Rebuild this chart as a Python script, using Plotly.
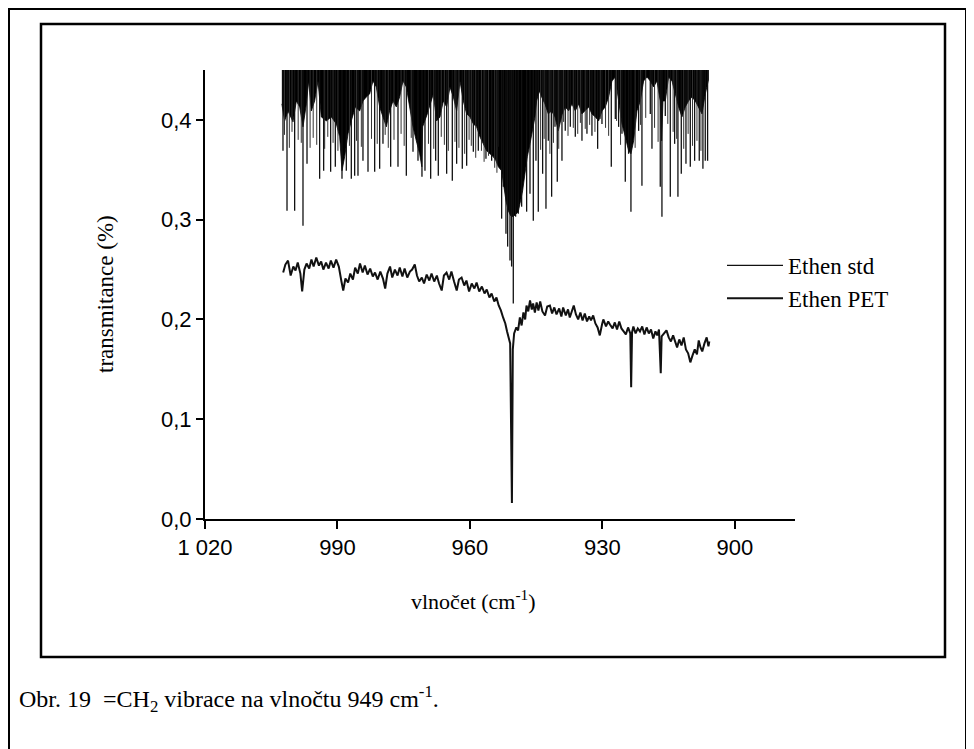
import plotly.graph_objects as go

# ---------------- data ----------------
# Ethen std: individual sharp absorption lines (wavenumber cm-1, minimum transmitance)
std_line_x = [1002.34, 1001.43, 999.70, 997.81, 996.90, 994.04, 993.13, 991.55, 990.49, 988.98,
              988.00, 986.87, 986.11, 985.36, 984.23, 983.09, 981.58, 980.45, 979.70, 977.96,
              976.30, 974.41, 972.90, 971.77, 970.87, 970.19, 968.90, 967.77, 967.17, 965.28,
              964.00, 963.02, 961.74, 960.75, 959.24, 958.11, 956.38, 955.09, 953.58, 952.83,
              952.45, 951.85, 951.47, 950.94, 950.57, 950.19, 949.66, 949.06, 948.30, 947.17,
              946.41, 945.66, 945.06, 944.53, 943.55, 942.79, 942.26, 941.51, 940.75, 940.23,
              939.62, 939.17, 938.42, 937.28, 936.15, 934.64, 933.51, 932.38, 931.09, 930.11,
              928.00, 927.09, 926.34, 925.58, 924.83, 924.08, 923.55, 921.81, 921.06, 919.17,
              918.79, 916.91, 916.53, 915.77, 914.64, 913.66, 912.91, 912.15, 911.09, 910.11,
              909.13, 908.08, 907.25, 906.72, 906.19]
std_line_y = [0.369, 0.309, 0.309, 0.294, 0.356, 0.341, 0.349, 0.348, 0.353, 0.341,
              0.349, 0.341, 0.344, 0.344, 0.359, 0.348, 0.348, 0.351, 0.376, 0.353,
              0.353, 0.344, 0.368, 0.359, 0.343, 0.349, 0.341, 0.359, 0.344, 0.346,
              0.339, 0.356, 0.351, 0.354, 0.368, 0.369, 0.361, 0.359, 0.373, 0.301,
              0.333, 0.286, 0.273, 0.259, 0.253, 0.216, 0.303, 0.306, 0.313, 0.308,
              0.326, 0.299, 0.359, 0.308, 0.346, 0.311, 0.379, 0.323, 0.393, 0.338,
              0.399, 0.359, 0.389, 0.393, 0.383, 0.379, 0.386, 0.384, 0.371, 0.396,
              0.353, 0.401, 0.393, 0.386, 0.338, 0.366, 0.308, 0.389, 0.334, 0.406,
              0.371, 0.333, 0.303, 0.404, 0.323, 0.376, 0.323, 0.346, 0.356, 0.353,
              0.359, 0.359, 0.351, 0.359, 0.359]

# Ethen std: weaker lines of the forest (wavenumber cm-1, minimum transmitance)
std_weak_x = [1002.0, 1000.9, 1000.3, 998.9, 998.2, 996.2, 995.5, 994.7, 992.9, 992.2,
              991.0, 989.9, 987.3, 985.7, 984.6, 982.3, 981.0, 979.2, 978.5, 977.2,
              975.6, 974.9, 973.3, 969.4, 968.2, 966.5, 965.8, 964.9, 963.4, 962.5,
              961.2, 960.2, 959.7, 958.7, 957.4, 956.8, 955.8, 954.4, 953.9, 944.0,
              943.2, 941.9, 941.1, 939.9, 938.8, 937.8, 936.6, 935.6, 935.0, 933.9,
              932.9, 931.7, 930.5, 929.3, 928.6, 926.8, 925.9, 922.6, 921.4, 920.2,
              918.2, 917.4, 915.2, 914.0, 913.2, 911.6, 910.6, 909.6, 908.6, 907.7]
std_weak_y = [0.385, 0.372, 0.388, 0.380, 0.377, 0.372, 0.382, 0.375, 0.371, 0.383,
              0.377, 0.369, 0.374, 0.379, 0.373, 0.381, 0.376, 0.385, 0.372, 0.380,
              0.386, 0.374, 0.382, 0.376, 0.371, 0.383, 0.375, 0.369, 0.378, 0.372,
              0.366, 0.380, 0.374, 0.362, 0.369, 0.358, 0.364, 0.352, 0.347, 0.370,
              0.381, 0.366, 0.377, 0.371, 0.398, 0.384, 0.392, 0.386, 0.397, 0.391,
              0.395, 0.388, 0.401, 0.392, 0.384, 0.399, 0.375, 0.372, 0.395, 0.402,
              0.392, 0.378, 0.396, 0.388, 0.381, 0.371, 0.386, 0.374, 0.379, 0.369]

# Ethen std: lower edge of the dense (unresolved, solid black) line forest
std_band_x = [1002.60, 1001.96, 1001.21, 1000.07, 999.32, 998.56, 997.81, 997.05, 996.53, 995.92,
              995.17, 994.41, 993.66, 992.53, 991.40, 990.26, 989.51, 988.98, 988.38, 987.62,
              986.87, 985.96, 984.98, 984.23, 983.47, 982.72, 981.96, 981.21, 980.45, 979.70,
              978.94, 978.19, 977.43, 976.68, 975.92, 975.17, 974.41, 973.66, 972.90, 972.15,
              971.40, 970.90, 970.72, 969.66, 969.06, 968.30, 967.55, 966.79, 966.04, 965.28,
              964.53, 963.77, 963.02, 962.26, 961.51, 960.75, 960.00, 959.24, 958.49, 957.74,
              956.98, 956.23, 955.47, 954.72, 954.11, 953.58, 952.83, 952.30, 951.85, 951.32,
              950.79, 950.19, 949.58, 949.06, 948.68, 948.08, 947.55, 947.02, 946.41, 945.81,
              945.28, 944.91, 944.30, 943.77, 943.02, 942.26, 941.51, 940.75, 940.00, 939.17,
              938.42, 937.66, 936.91, 936.15, 935.40, 934.64, 933.89, 933.13, 932.38, 931.62,
              930.87, 930.11, 929.36, 928.60, 927.85, 927.09, 926.34, 925.58, 924.83, 924.08,
              923.55, 922.94, 922.19, 921.43, 920.68, 919.92, 919.17, 918.42, 917.66, 916.91,
              916.60, 916.30, 915.77, 915.02, 914.26, 913.51, 912.75, 912.00, 911.25, 910.49,
              909.74, 908.98, 908.23, 907.47, 906.72, 906.11, 906.00]
std_band_y = [0.416, 0.399, 0.409, 0.398, 0.419, 0.413, 0.393, 0.416, 0.439, 0.409,
              0.419, 0.439, 0.403, 0.399, 0.403, 0.396, 0.383, 0.349, 0.363, 0.386,
              0.399, 0.413, 0.409, 0.419, 0.423, 0.426, 0.439, 0.433, 0.413, 0.403,
              0.393, 0.409, 0.419, 0.413, 0.423, 0.439, 0.433, 0.413, 0.393, 0.379,
              0.366, 0.353, 0.393, 0.406, 0.416, 0.426, 0.399, 0.403, 0.419, 0.413,
              0.433, 0.423, 0.409, 0.439, 0.419, 0.406, 0.403, 0.396, 0.393, 0.383,
              0.376, 0.369, 0.366, 0.363, 0.359, 0.353, 0.349, 0.333, 0.319, 0.309,
              0.304, 0.303, 0.306, 0.308, 0.316, 0.329, 0.346, 0.363, 0.376, 0.389,
              0.403, 0.419, 0.429, 0.423, 0.416, 0.406, 0.409, 0.403, 0.389, 0.405,
              0.413, 0.409, 0.416, 0.409, 0.416, 0.406, 0.409, 0.413, 0.406, 0.403,
              0.399, 0.409, 0.413, 0.423, 0.439, 0.443, 0.419, 0.396, 0.383, 0.369,
              0.366, 0.379, 0.409, 0.419, 0.439, 0.443, 0.439, 0.433, 0.439, 0.419,
              0.379, 0.419, 0.419, 0.443, 0.439, 0.426, 0.413, 0.403, 0.413, 0.419,
              0.423, 0.419, 0.413, 0.406, 0.426, 0.436, 0.440]
std_baseline = 0.47  # true baseline of the std spectrum lies above the plotted range

# Ethen PET
pet_x = [1002.3, 1001.8, 1001.2, 1000.6, 1000.0, 999.5, 999.0, 998.4, 998.0, 997.5,
         997.0, 996.4, 995.9, 995.4, 994.8, 994.2, 993.7, 993.2, 992.6, 992.0,
         991.5, 990.9, 990.3, 989.7, 989.1, 988.7, 988.2, 987.6, 987.1, 986.5,
         986.0, 985.4, 984.9, 984.3, 983.8, 983.2, 982.6, 982.0, 981.5, 980.9,
         980.3, 979.7, 979.2, 978.7, 978.1, 977.6, 977.0, 976.4, 975.9, 975.3,
         974.8, 974.2, 973.6, 973.1, 972.5, 972.0, 971.5, 970.9, 970.4, 969.8,
         969.2, 968.7, 968.1, 967.5, 967.0, 966.4, 965.9, 965.3, 964.7, 964.2,
         963.6, 963.0, 962.5, 961.9, 961.3, 960.8, 960.2, 959.6, 959.0, 958.5,
         957.9, 957.3, 956.7, 956.2, 955.6, 955.1, 954.5, 954.0, 953.5, 953.0,
         952.5, 952.0, 951.6, 951.2, 950.9, 950.5, 950.3, 950.0, 949.5, 949.1,
         948.7, 948.3, 947.9, 947.5, 947.2, 946.8, 946.4, 946.0, 945.7, 945.3,
         944.9, 944.5, 944.1, 943.6, 943.0, 942.5, 941.9, 941.4, 940.9, 940.4,
         939.8, 939.3, 938.9, 938.3, 937.8, 937.4, 936.9, 936.5, 936.0, 935.5,
         935.0, 934.5, 934.0, 933.5, 933.0, 932.6, 932.1, 931.6, 931.1, 930.6,
         930.1, 929.8, 929.2, 928.7, 928.3, 927.7, 927.2, 926.7, 926.2, 925.7,
         925.2, 924.7, 924.2, 923.7, 923.5, 923.3, 923.0, 922.5, 922.0, 921.5,
         921.0, 920.5, 920.0, 919.5, 919.0, 918.5, 918.0, 917.6, 917.2, 916.8,
         916.6, 916.0, 915.5, 915.0, 914.5, 914.0, 913.5, 913.1, 912.6, 912.1,
         911.6, 911.1, 910.6, 910.1, 909.6, 909.1, 908.6, 908.2, 907.8, 907.4,
         906.9, 906.4, 906.0, 905.8]
pet_y = [0.247, 0.255, 0.259, 0.244, 0.253, 0.249, 0.257, 0.246, 0.228, 0.250,
         0.256, 0.251, 0.260, 0.253, 0.262, 0.254, 0.258, 0.250, 0.257, 0.251,
         0.259, 0.252, 0.260, 0.253, 0.238, 0.229, 0.241, 0.237, 0.246, 0.240,
         0.252, 0.246, 0.256, 0.247, 0.254, 0.245, 0.251, 0.243, 0.247, 0.240,
         0.248, 0.241, 0.231, 0.246, 0.253, 0.242, 0.250, 0.244, 0.252, 0.243,
         0.251, 0.242, 0.248, 0.250, 0.255, 0.244, 0.238, 0.242, 0.236, 0.245,
         0.239, 0.246, 0.238, 0.244, 0.236, 0.229, 0.244, 0.247, 0.240, 0.248,
         0.238, 0.229, 0.240, 0.242, 0.234, 0.239, 0.228, 0.236, 0.231, 0.237,
         0.228, 0.233, 0.226, 0.230, 0.222, 0.226, 0.218, 0.222, 0.214, 0.209,
         0.202, 0.196, 0.188, 0.180, 0.176, 0.016, 0.170, 0.186, 0.192, 0.189,
         0.202, 0.194, 0.207, 0.200, 0.214, 0.208, 0.219, 0.210, 0.216, 0.207,
         0.217, 0.209, 0.218, 0.208, 0.204, 0.213, 0.214, 0.206, 0.212, 0.205,
         0.211, 0.203, 0.212, 0.204, 0.210, 0.202, 0.208, 0.214, 0.205, 0.200,
         0.207, 0.199, 0.206, 0.198, 0.203, 0.199, 0.204, 0.196, 0.192, 0.184,
         0.195, 0.200, 0.193, 0.198, 0.195, 0.191, 0.197, 0.190, 0.198, 0.191,
         0.188, 0.185, 0.192, 0.186, 0.132, 0.187, 0.193, 0.186, 0.191, 0.188,
         0.193, 0.185, 0.192, 0.186, 0.190, 0.181, 0.188, 0.184, 0.190, 0.146,
         0.183, 0.187, 0.189, 0.182, 0.178, 0.184, 0.176, 0.172, 0.180, 0.174,
         0.182, 0.170, 0.166, 0.157, 0.164, 0.170, 0.165, 0.179, 0.172, 0.168,
         0.176, 0.182, 0.173, 0.178]

x_tick_vals = [1020, 990, 960, 930, 900]
x_tick_text = ["1 020", "990", "960", "930", "900"]
y_tick_vals = [0.0, 0.1, 0.2, 0.3, 0.4]
y_tick_text = ["0,0", "0,1", "0,2", "0,3", "0,4"]
x_range = [1020, 886.4]
y_range = [0, 0.45]

series_names = ["Ethen std", "Ethen PET"]
x_title = "vlnočet (cm<sup>-1</sup>)"
y_title = "transmitance (%)"
caption = "Obr. 19  =CH<sub>2</sub> vibrace na vlnočtu 949 cm<sup>-1</sup>."

# ---------------- figure ----------------
SERIF = "Liberation Serif, Times New Roman, serif"
SANS = "Liberation Sans, Arial, sans-serif"

band_x = std_band_x + [std_band_x[-1], std_band_x[0]]
band_y = std_band_y + [std_baseline, std_baseline]


def drops(xs_in, ys_in):
    xs, ys = [], []
    for xv, yv in zip(xs_in, ys_in):
        xs += [xv, xv, None]
        ys += [std_baseline, yv, None]
    return xs, ys


lx, ly = drops(std_line_x, std_line_y)
wx, wy = drops(std_weak_x, std_weak_y)

fig = go.Figure()
fig.add_trace(go.Scatter(x=band_x, y=band_y, mode="lines", fill="toself",
                         fillcolor="black", line=dict(color="black", width=0.8),
                         showlegend=False, hoverinfo="skip"))
fig.add_trace(go.Scatter(x=wx, y=wy, mode="lines", showlegend=False, hoverinfo="skip",
                         line=dict(color="#333333", width=1)))
fig.add_trace(go.Scatter(x=lx, y=ly, mode="lines", name=series_names[0],
                         line=dict(color="#111111", width=1.3)))
fig.add_trace(go.Scatter(x=pet_x, y=pet_y, mode="lines", name=series_names[1],
                         line=dict(color="#111111", width=2)))

OFF = 8                        # page body margin of the html page
Lp, Rp, Tp, Bp = 205, 795, 70, 519   # plot area in page pixels
W, H = 974 - OFF, 749 - OFF
L, R, T, B = Lp - OFF, Rp - OFF, Tp - OFF, Bp - OFF
pw, ph = R - L, B - T


def px(xp):
    return (xp - OFF - L) / pw


def py(yp):
    return (B - (yp - OFF)) / ph


fig.update_layout(
    width=W, height=H, autosize=False,
    margin=dict(l=L, r=W - R, t=T, b=H - B, pad=0),
    paper_bgcolor="white", plot_bgcolor="white",
    showlegend=True,
    legend=dict(x=px(722), y=py(244), xanchor="left", yanchor="top",
                font=dict(family=SERIF, size=23, color="black"),
                bgcolor="rgba(0,0,0,0)", itemwidth=56, tracegroupgap=0),
    xaxis=dict(range=x_range, tickmode="array", tickvals=x_tick_vals, ticktext=x_tick_text,
               showgrid=False, zeroline=False, showline=True, linecolor="black", linewidth=2,
               ticks="outside", ticklen=8, tickwidth=2, tickcolor="black",
               tickfont=dict(family=SANS, size=22, color="black")),
    yaxis=dict(range=y_range, tickmode="array", tickvals=y_tick_vals, ticktext=y_tick_text,
               showgrid=False, zeroline=False, showline=True, linecolor="black", linewidth=2,
               ticks="outside", ticklen=7, tickwidth=2, tickcolor="black",
               tickfont=dict(family=SANS, size=22, color="black")),
    shapes=[
        dict(type="rect", xref="paper", yref="paper", x0=px(9), x1=px(966), y0=py(770), y1=py(9),
             line=dict(color="black", width=2), fillcolor="rgba(0,0,0,0)", layer="below"),
        dict(type="rect", xref="paper", yref="paper", x0=px(41), x1=px(945), y0=py(657), y1=py(24),
             line=dict(color="black", width=2.5), fillcolor="rgba(0,0,0,0)", layer="below"),
    ],
    annotations=[
        dict(text=x_title, xref="paper", yref="paper", x=px(473), y=py(600),
             xanchor="center", yanchor="middle", showarrow=False,
             font=dict(family=SERIF, size=22, color="black")),
        dict(text=y_title, xref="paper", yref="paper", x=px(105), y=py(294),
             xanchor="center", yanchor="middle", showarrow=False, textangle=-90,
             font=dict(family=SERIF, size=23, color="black")),
        dict(text=caption, xref="paper", yref="paper", x=px(17), y=py(699),
             xanchor="left", yanchor="middle", showarrow=False,
             font=dict(family=SERIF, size=24, color="black")),
    ],
)

fig.write_html("out.html")
